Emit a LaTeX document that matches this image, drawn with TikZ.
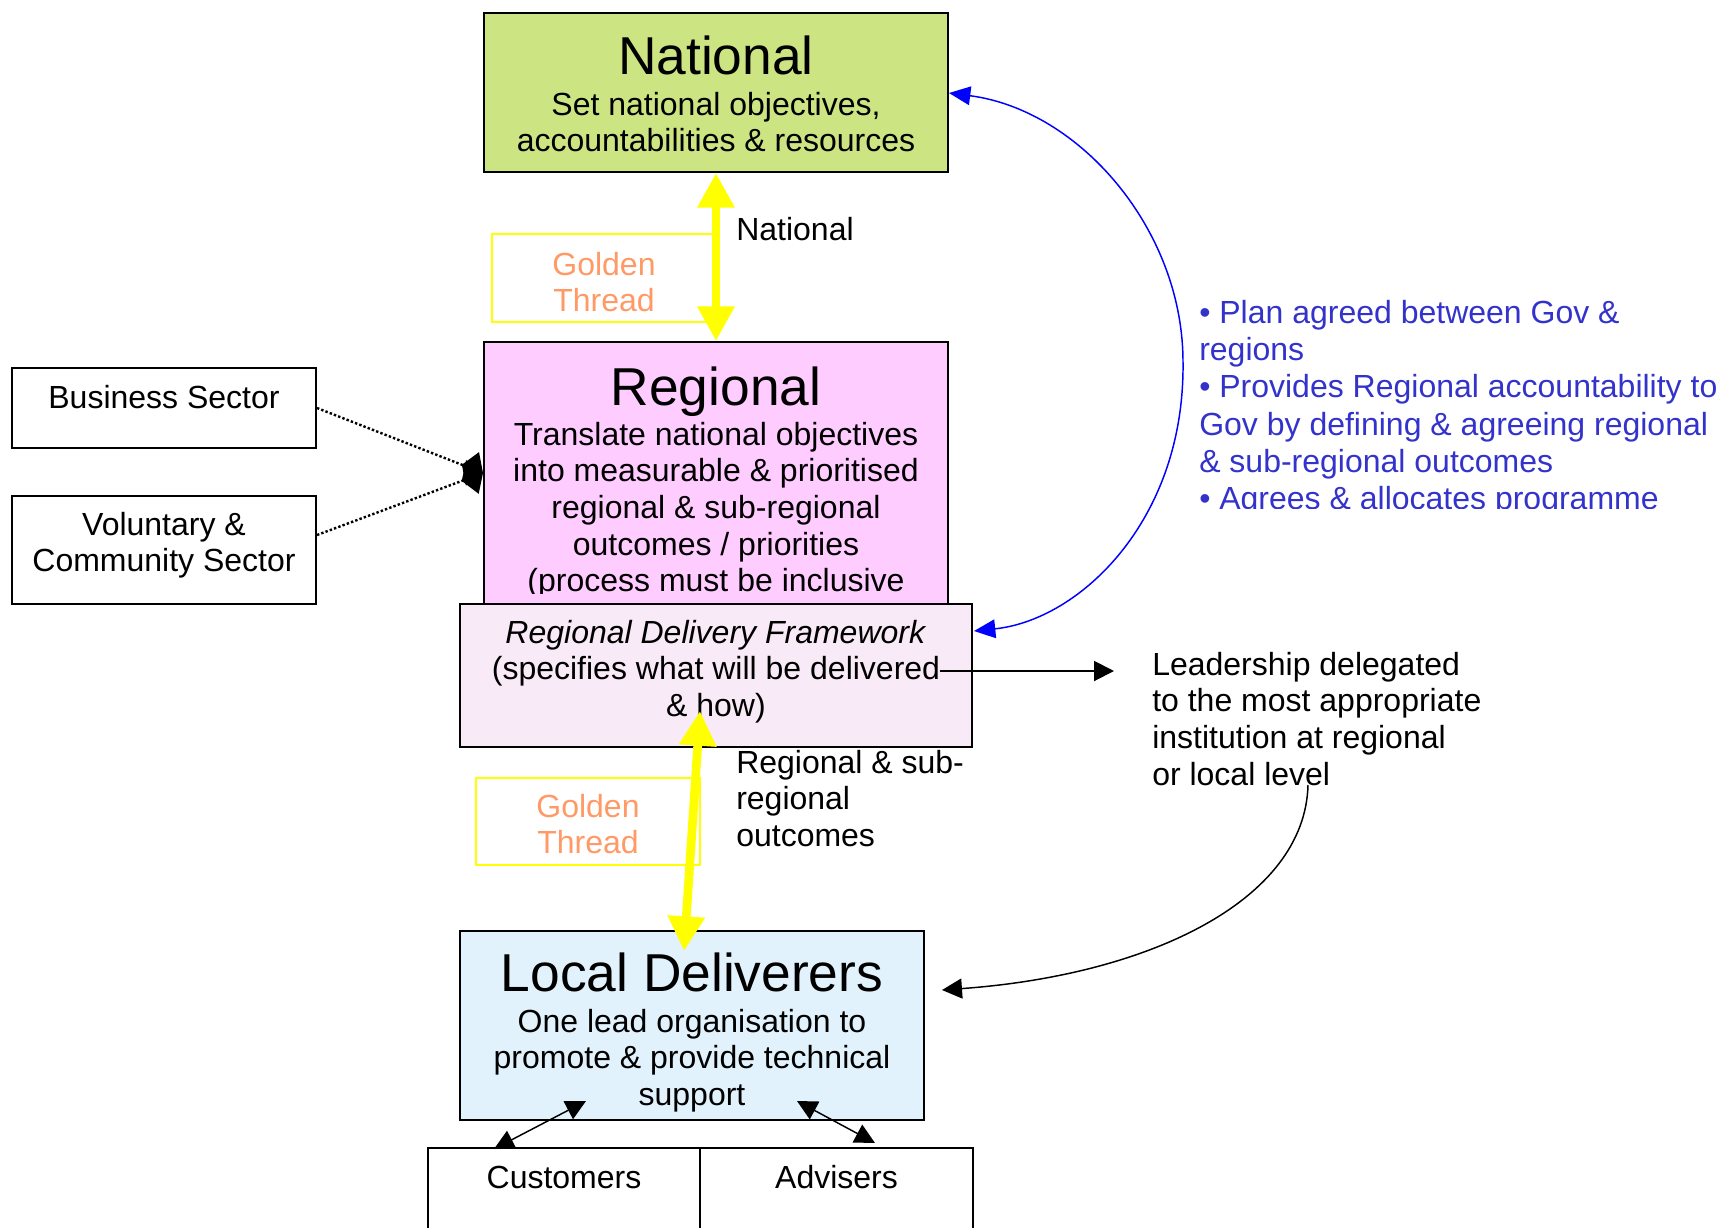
\documentclass[tikz,border=0pt]{standalone}
\usepackage{fontspec}
\setmainfont{Liberation Sans}
\usetikzlibrary{arrows.meta}
\definecolor{natfill}{RGB}{205,228,130}
\definecolor{regfill}{RGB}{255,204,255}
\definecolor{rdffill}{RGB}{248,234,246}
\definecolor{locfill}{RGB}{225,242,252}
\definecolor{goldtext}{RGB}{255,153,102}
\definecolor{threadyellow}{RGB}{255,255,0}
\definecolor{notesblue}{RGB}{51,51,204}
\definecolor{linkblue}{RGB}{0,0,255}

\begin{document}
\begin{tikzpicture}[x=0.75pt,y=-0.75pt,
  box/.style={draw=black, line width=1.5pt, inner sep=0pt},
  titletext/.style={font=\fontsize{40}{44}\selectfont, inner sep=0pt, anchor=base},
  bodytext/.style={font=\fontsize{24}{27.5}\selectfont, inner sep=0pt, align=center, anchor=north},
  linetext/.style={font=\fontsize{24}{27.5}\selectfont, inner sep=0pt, anchor=base},
  sidetext/.style={font=\fontsize{24}{27.5}\selectfont, inner sep=0pt, align=left, anchor=north west},
  notetext/.style={font=\fontsize{24}{28}\selectfont, inner sep=0pt, align=left, anchor=north west, text=notesblue},
  goldbox/.style={draw=threadyellow, line width=1pt, inner sep=0pt},
  thread/.style={draw=threadyellow, line width=6.5pt, >={Triangle[length=26pt,width=26.5pt]}, <->},
  plain/.style={draw=black, line width=1.1pt, >={Triangle[length=15pt,width=15pt]}},
  link/.style={draw=linkblue, line width=1.1pt, >={Triangle[length=16pt,width=14pt]}},
  feed/.style={draw=black, line width=1.8pt, dash pattern=on 1.8pt off 1.6pt, -{Diamond[length=17pt,width=27pt]}}
]
\useasboundingbox (0,0) rectangle (1721,1228);
\clip (0,0) rectangle (1721,1228);

% National level
\node[box, fill=natfill, minimum width=348pt, minimum height=119.25pt] (nat) at (716,92.5) {};
\node[titletext] (natT) at (716,74) {National};
\node[bodytext] (natB) at (716,89.3) {\strut Set national objectives,\\accountabilities \& resources};

% first golden thread
\node[goldbox, minimum width=168pt, minimum height=66pt] (gt1) at (604,278) {};
\node[bodytext, text=goldtext] (gt1T) at (604,249.3) {\strut Golden\\Thread};

% Regional level
\node[box, fill=regfill, minimum width=348pt, minimum height=196.5pt] (reg) at (716,473) {};
\node[titletext] (regT) at (716,405) {Regional};
\begin{scope}
  \clip (484,342) rectangle (948,593);
  \node[bodytext] (regB) at (716,419.3) {\strut Translate national objectives\\into measurable \& prioritised\\regional \& sub-regional\\outcomes / priorities\\(process must be inclusive};
\end{scope}

\draw[thread] (nat.south) -- (reg.north);
\node[linetext, anchor=base west] (natLbl) at (736,240) {National};

% sectors feeding the regional level
\node[box, minimum width=228pt, minimum height=60pt] (bus) at (164,408) {};
\node[linetext] (busT) at (164,408) {Business Sector};
\node[box, minimum width=228pt, minimum height=81pt] (vol) at (164,550) {};
\node[bodytext] (volT) at (164,509.3) {\strut Voluntary \&\\Community Sector};
\draw[feed] (bus.east) -- (reg.west);
\draw[feed] ([yshift=11.25pt]vol.east) -- (reg.west);

% Regional Delivery Framework
\node[box, fill=rdffill, minimum width=384pt, minimum height=107.25pt] (rdf) at (716,675.5) {};
\node[bodytext] (rdfB) at (716,617.3) {\strut\textit{Regional Delivery Framework}\\(specifies what will be delivered\\\& how)};

% delegated leadership
\coordinate (ldFrom) at (940,671);
\coordinate (ldTo) at (1114,671);
\draw[plain, line width=1.5pt, ->] (ldFrom) -- (ldTo);
\node[sidetext] (leadT) at (1152,649.3) {\strut Leadership delegated\\to the most appropriate\\institution at regional\\or local level};

% second golden thread
\node[goldbox, minimum width=168pt, minimum height=65.25pt] (gt2) at (588,821.5) {};
\node[bodytext, text=goldtext] (gt2T) at (588,791.3) {\strut Golden\\Thread};
\node[sidetext] (rsubT) at (736,747.3) {\strut Regional \& sub-\\regional\\outcomes};

% Local level
\node[box, fill=locfill, minimum width=348pt, minimum height=141.75pt] (loc) at (692,1025.5) {};
\node[titletext] (locT) at (692,991) {Local Deliverers};
\node[bodytext] (locB) at (692,1006.3) {\strut One lead organisation to\\promote \& provide technical\\support};

\coordinate (thrTop) at (700,711);
\coordinate (thrBot) at (684,951);
\draw[thread] (thrTop) -- (thrBot);

% customers and advisers
\node[box, minimum width=204pt, minimum height=84pt] (cus) at (564,1204) {};
\node[box, minimum width=204.75pt, minimum height=84pt] (adv) at (836.5,1204) {};
\node[linetext] (cusT) at (564,1188) {Customers};
\node[linetext] (advT) at (836.5,1188) {Advisers};
\coordinate (cusUp) at (494,1149);
\coordinate (locCus) at (586,1101);
\coordinate (locAdv) at (797,1101);
\coordinate (advUp) at (875,1143);
\draw[plain, <->] (cusUp) -- (locCus);
\draw[plain, <->] (locAdv) -- (advUp);

% leadership reaches local level
\coordinate (lvlFrom) at (1308,785);
\coordinate (locIn) at (942,990);
\draw[plain, ->] (lvlFrom) .. controls (1305,900) and (1150,975) .. (locIn);

% agreement loop between framework and national level
\coordinate (rdfIn) at (974,631);
\coordinate (arcMid) at (1183,362);
\coordinate (natIn) at (949,93);
\draw[link, <->] (rdfIn) .. controls (1080,620) and (1185,520) .. (arcMid)
  .. controls (1183,230) and (1080,110) .. (natIn);

\begin{scope}
  \clip (1190,280) rectangle (1721,508);
  \node[notetext] (notes) at (1199,296.9) {\strut\textbullet{} Plan agreed between Gov \&\\regions\\\textbullet{} Provides Regional accountability to\\Gov by defining \& agreeing regional\\\& sub-regional outcomes\\\textbullet{} Agrees \& allocates programme};
\end{scope}
\end{tikzpicture}
\end{document}
